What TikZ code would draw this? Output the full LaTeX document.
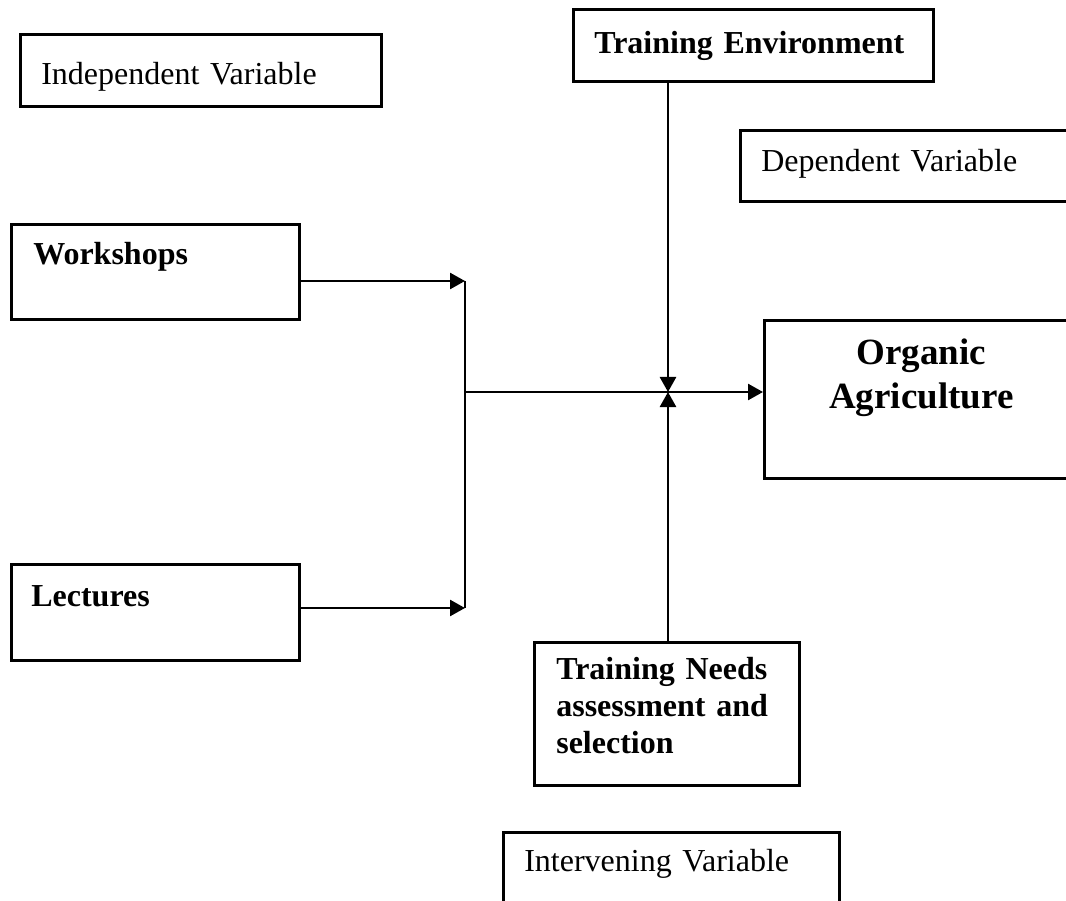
\documentclass[tikz,border=0pt]{standalone}
\usepackage{fontspec}
\setmainfont{Liberation Serif}
\usetikzlibrary{arrows.meta}
\begin{document}
\begin{tikzpicture}[x=1pt,y=-1pt,
  box/.style={draw, line width=2.6pt, anchor=north west, inner ysep=0pt, align=left,
    font=\fontsize{32}{37}\selectfont},
  bbox/.style={box, font=\bfseries\fontsize{32}{37}\selectfont},
  conn/.style={line width=2.6pt},
  arr/.style={conn, -{Triangle[length=15pt,width=16pt]}}]
\clip (0,0) rectangle (1066,901);
\fill[white] (0,0) rectangle (1066,901);

\node[box, inner xsep=21pt, text width=319pt, text height=50pt, text depth=22pt] (iv) at (19,33) {Independent Variable};
\node[bbox, inner xsep=21pt, text width=318pt, text height=44pt, text depth=28pt] (te) at (572,8) {Training Environment};
\node[box, inner xsep=21pt, text width=319pt, text height=41pt, text depth=30pt] (dv) at (739,129) {Dependent Variable};
\node[bbox, inner xsep=22pt, text width=244pt, text height=40pt, text depth=55pt] (ws) at (10,223) {Workshops};
\node[bbox, inner xsep=20pt, text width=248pt, text height=42pt, text depth=54pt] (lc) at (10,563) {Lectures};
\node[box, inner xsep=0pt, text width=314pt, align=center, text height=44pt, text depth=114pt,
  font=\bfseries\fontsize{37}{44}\selectfont] (og) at (763,319) {Organic\\Agriculture};
\node[bbox, inner xsep=22pt, text width=221pt, text height=37pt, text depth=106pt] (tn) at (533,641) {Training Needs\\assessment and\\selection};
\node[box, inner xsep=21pt, text width=294pt, text height=39pt, text depth=60pt] (itv) at (502,831) {Intervening Variable};

\coordinate (j1) at (465,281);
\coordinate (j2) at (465,608);
\coordinate (jm) at (465,392);
\coordinate (hub) at (668,392);

\draw[arr] (ws.east |- j1) -- (j1);
\draw[arr] (lc.east |- j2) -- (j2);
\draw[conn] (j1) -- (j2);
\draw[arr] (jm) -- (og.west |- jm);
\draw[arr] (te.south -| hub) -- (hub);
\draw[arr] (tn.north -| hub) -- (hub);
\end{tikzpicture}
\end{document}
